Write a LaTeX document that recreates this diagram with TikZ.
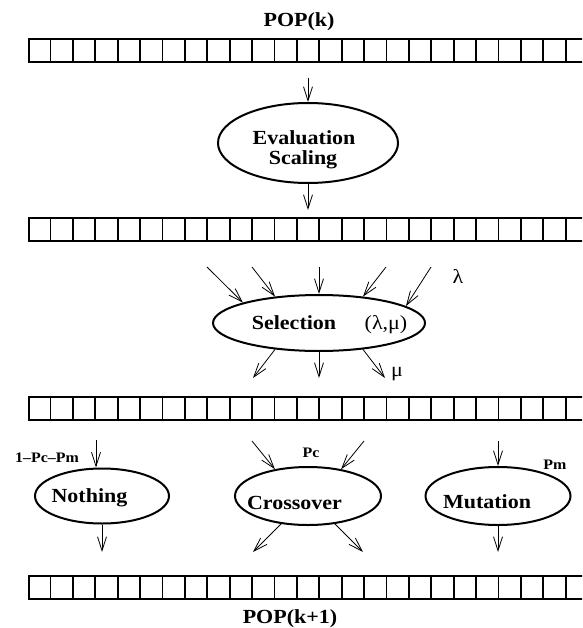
\documentclass[tikz,border=0pt]{standalone}
\usepackage{fontspec}
\setmainfont[FakeStretch=1.1]{Liberation Serif}
\usetikzlibrary{arrows.meta,shapes.geometric}
\begin{document}
\begin{tikzpicture}[x=1pt,y=-1pt,
  popbox/.style={draw, line width=2pt, minimum width=560pt, minimum height=23pt, inner sep=0pt, anchor=north west},
  cellline/.style={line width=1.8pt},
  oval/.style={draw, ellipse, line width=2pt, inner sep=0pt},
  big/.style={font=\bfseries\fontsize{20}{22}\selectfont, anchor=base, inner sep=0pt},
  small/.style={font=\bfseries\fontsize{14.5}{16}\selectfont, anchor=base, inner sep=0pt},
  greek/.style={font=\fontsize{20}{22}\selectfont, anchor=base, inner sep=0pt},
  flow/.style={-{Straight Barb[length=14pt,width=9pt]}, line width=0.8pt}
]
\useasboundingbox (0,0) rectangle (582,628);
\clip (0,0) rectangle (582,628);

% population arrays
\foreach \n/\y in {p1/38, p2/217, p3/396, p4/575} {
  \node[popbox] (\n) at (28,\y) {};
  \foreach \i in {1,...,24} \draw[cellline] (28+\i*22.4,\y) -- ++(0,23);
}

% ellipses
\node[oval, minimum width=180pt, minimum height=80pt] (eval) at (308,143) {};
\node[oval, minimum width=212pt, minimum height=56pt] (sel) at (319,323) {};
\node[oval, minimum width=134pt, minimum height=55pt] (noth) at (102,496) {};
\node[oval, minimum width=146pt, minimum height=58pt] (cross) at (308,496) {};
\node[oval, minimum width=145pt, minimum height=58pt] (mut) at (498,496) {};

% texts
\node[big] (popk) at (299,27) {POP(k)};
\node[big] (evtxt) at (304,145) {Evaluation};
\node[big] (sctxt) at (303,165) {Scaling};
\node[big] (seltxt) at (294,329) {Selection};
\node[greek] (lm) at (386,329) {(λ,μ)};
\node[greek] (lam) at (458,283) {λ};
\node[greek] (mu) at (397,376) {μ};
\node[small] (pn) at (47,462) {1–Pc–Pm};
\node[big] (nothtxt) at (89.5,502) {Nothing};
\node[big] (crosstxt) at (294.5,509) {Crossover};
\node[big] (muttxt) at (487,508) {Mutation};
\node[small] (pc) at (311,457) {Pc};
\node[small] (pm) at (555,469) {Pm};
\node[big] (popk1) at (290,623) {POP(k+1)};

% connector end points
\coordinate (e0) at (308,78);
\coordinate (e1) at (308,210);
\coordinate (s1) at (207,267);
\coordinate (s2) at (252,267);
\coordinate (s3) at (319,267);
\coordinate (s4) at (386,267);
\coordinate (s5) at (431,267);
\coordinate (o1) at (253,378);
\coordinate (o2) at (319,378);
\coordinate (o3) at (385,378);
\coordinate (n0) at (96,440);
\coordinate (n1) at (102,552);
\coordinate (c1) at (252,441);
\coordinate (c2) at (364,441);
\coordinate (c3) at (253,552);
\coordinate (c4) at (363,552);
\coordinate (m0) at (498,441);
\coordinate (m1) at (498,552);

% connectors
\draw[flow] (e0) -- (eval.north);
\draw[flow] (eval.south) -- (e1);
\draw[flow] (s1) -- (sel.165);
\draw[flow] (s2) -- (sel.149);
\draw[flow] (s3) -- (sel.north);
\draw[flow] (s4) -- (sel.31);
\draw[flow] (s5) -- (sel.11);
\draw[flow] (sel.211) -- (o1);
\draw[flow] (sel.south) -- (o2);
\draw[flow] (sel.329) -- (o3);
\draw[flow] (n0) -- (n0 |- noth.north);
\draw[flow] (noth.south) -- (n1);
\draw[flow] (c1) -- (cross.141);
\draw[flow] (c2) -- (cross.39);
\draw[flow] (cross.226) -- (c3);
\draw[flow] (cross.314) -- (c4);
\draw[flow] (m0) -- (mut.north);
\draw[flow] (mut.south) -- (m1);
\end{tikzpicture}
\end{document}
